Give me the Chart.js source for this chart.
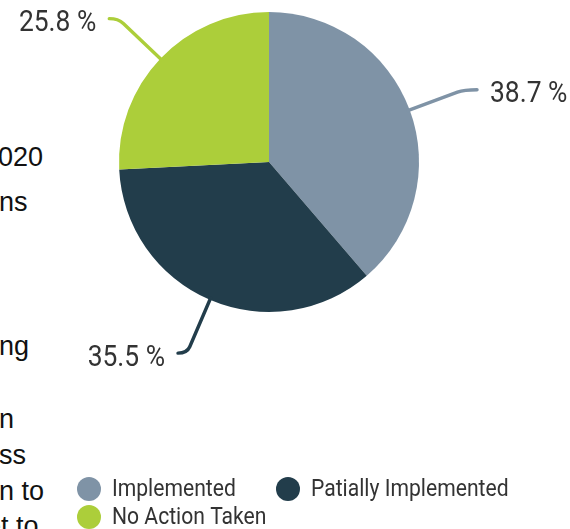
<!DOCTYPE html>
<html>
<head>
<meta charset="utf-8">
<script src="https://cdn.jsdelivr.net/npm/chart.js@4/dist/chart.umd.min.js"></script>
<style>
  html, body { margin: 0; padding: 0; background: #fff; }
  #wrap { position: relative; width: 570px; height: 529px; overflow: hidden; }
  #pie { position: absolute; left: 0; top: 0; }
  .frag { position: absolute; font-family: "Liberation Sans", Arial, sans-serif; font-size: 27px; color: #111; white-space: nowrap; line-height: 1; }
</style>
</head>
<body>
<div id="wrap">
  <!-- clipped body text from the page the chart sits beside -->
  <div class="frag" style="left:-2px; top:144px">020</div>
  <div class="frag" style="left:-1px; top:189px">ns</div>
  <div class="frag" style="left:-1px; top:333px">ng</div>
  <div class="frag" style="left:-1px; top:406px">n</div>
  <div class="frag" style="left:-1px; top:442px">ss</div>
  <div class="frag" style="left:-1px; top:478px">n to</div>
  <div class="frag" style="left:-14px; top:513px">et to</div>
  <canvas id="pie" width="570" height="529"></canvas>
</div>
<script>
const categories = ["Implemented", "Patially Implemented", "No Action Taken"]
const shares = [38.7, 35.5, 25.8]
const sliceColors = ["#7f93a6", "#223d4b", "#acce3a"]

const labelFont = "Roboto, sans-serif"
const squeeze = 0.88

// leader lines + percentage labels outside each slice
const outsideLabels = {
  id: "outsideLabels",
  afterDatasetsDraw(chart) {
    const ctx = chart.ctx
    const arcs = chart.getDatasetMeta(0).data
    arcs.forEach((arc, i) => {
      const mid = (arc.startAngle + arc.endAngle) / 2
      const r = arc.outerRadius
      const cos = Math.cos(mid), sin = Math.sin(mid)
      const x0 = arc.x + cos * (r - 2), y0 = arc.y + sin * (r - 2)
      const x1 = arc.x + cos * (r + 58), y1 = arc.y + sin * (r + 58)
      const side = cos >= 0 ? 1 : -1
      const x2 = x1 + side * (side > 0 ? 13 : 9)
      ctx.save()
      ctx.strokeStyle = sliceColors[i]
      ctx.lineWidth = 3.4
      ctx.lineCap = "round"
      ctx.beginPath()
      ctx.moveTo(x0, y0)
      const back = 7
      ctx.lineTo(x1 - cos * back, y1 - sin * back)
      ctx.quadraticCurveTo(x1, y1, x2, y1)
      ctx.stroke()

      const text = shares[i].toFixed(1) + " %"
      ctx.fillStyle = "#333333"
      ctx.font = "30px " + labelFont
      ctx.textBaseline = "middle"
      const ty = y1 + 5
      const tx = x2 + side * 13
      ctx.translate(tx, ty)
      ctx.scale(squeeze, 1)
      ctx.textAlign = side > 0 ? "left" : "right"
      ctx.fillText(text, 0, 0)
      ctx.restore()
    })
  }
}

// legend drawn below the pie
const legendRows = {
  id: "legendRows",
  afterDraw(chart) {
    const ctx = chart.ctx
    const spots = [[89, 489], [288, 489], [89, 517]]
    chart.data.labels.forEach((name, i) => {
      const [cx, cy] = spots[i]
      ctx.save()
      ctx.fillStyle = sliceColors[i]
      ctx.beginPath()
      ctx.arc(cx, cy, 12, 0, Math.PI * 2)
      ctx.fill()
      ctx.fillStyle = "#333333"
      ctx.font = "24px " + labelFont
      ctx.textBaseline = "middle"
      ctx.textAlign = "left"
      ctx.translate(cx + 23, cy + 1)
      ctx.scale(squeeze, 1)
      ctx.fillText(name, 0, 0)
      ctx.restore()
    })
  }
}

new Chart(document.getElementById("pie"), {
  type: "pie",
  data: {
    labels: categories,
    datasets: [{
      data: shares,
      backgroundColor: sliceColors,
      borderWidth: 0
    }]
  },
  options: {
    responsive: false,
    animation: false,
    layout: { padding: { top: 12, bottom: 217, left: 119, right: 151 } },
    plugins: {
      legend: { display: false },
      tooltip: { enabled: false }
    }
  },
  plugins: [outsideLabels, legendRows]
})
</script>
</body>
</html>
